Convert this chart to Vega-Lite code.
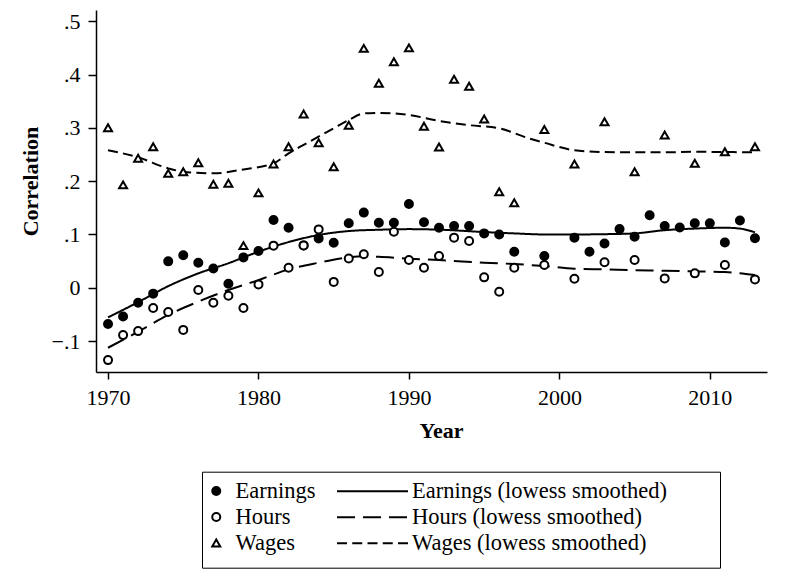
{
  "$schema": "https://vega.github.io/schema/vega-lite/v6.json",
  "width": 671,
  "height": 362,
  "autosize": {"type": "none"},
  "padding": {"left": 96, "top": 10, "right": 33, "bottom": 210},
  "background": "white",
  "config": {
    "view": {"stroke": null},
    "font": "Liberation Serif",
    "axis": {
      "domainColor": "black", "domainWidth": 1.5,
      "tickColor": "black", "tickWidth": 1.5, "tickSize": 7,
      "labelFont": "Liberation Serif", "labelFontSize": 22, "labelColor": "black",
      "titleFont": "Liberation Serif", "titleFontSize": 22, "titleFontWeight": "bold", "titleColor": "black",
      "grid": false
    }
  },
  "datasets": {
    "pts": [
      {"year": 1970, "value": -0.068, "series": "Earnings"},
      {"year": 1971, "value": -0.054, "series": "Earnings"},
      {"year": 1972, "value": -0.028, "series": "Earnings"},
      {"year": 1973, "value": -0.011, "series": "Earnings"},
      {"year": 1974, "value": 0.0495, "series": "Earnings"},
      {"year": 1975, "value": 0.061, "series": "Earnings"},
      {"year": 1976, "value": 0.047, "series": "Earnings"},
      {"year": 1977, "value": 0.036, "series": "Earnings"},
      {"year": 1978, "value": 0.0075, "series": "Earnings"},
      {"year": 1979, "value": 0.057, "series": "Earnings"},
      {"year": 1980, "value": 0.069, "series": "Earnings"},
      {"year": 1981, "value": 0.127, "series": "Earnings"},
      {"year": 1982, "value": 0.1126, "series": "Earnings"},
      {"year": 1983, "value": 0.0795, "series": "Earnings"},
      {"year": 1984, "value": 0.0926, "series": "Earnings"},
      {"year": 1985, "value": 0.0845, "series": "Earnings"},
      {"year": 1986, "value": 0.121, "series": "Earnings"},
      {"year": 1987, "value": 0.141, "series": "Earnings"},
      {"year": 1988, "value": 0.122, "series": "Earnings"},
      {"year": 1989, "value": 0.122, "series": "Earnings"},
      {"year": 1990, "value": 0.157, "series": "Earnings"},
      {"year": 1991, "value": 0.123, "series": "Earnings"},
      {"year": 1992, "value": 0.1126, "series": "Earnings"},
      {"year": 1993, "value": 0.116, "series": "Earnings"},
      {"year": 1994, "value": 0.116, "series": "Earnings"},
      {"year": 1995, "value": 0.102, "series": "Earnings"},
      {"year": 1996, "value": 0.1, "series": "Earnings"},
      {"year": 1997, "value": 0.0676, "series": "Earnings"},
      {"year": 1999, "value": 0.0595, "series": "Earnings"},
      {"year": 2001, "value": 0.094, "series": "Earnings"},
      {"year": 2002, "value": 0.0676, "series": "Earnings"},
      {"year": 2003, "value": 0.083, "series": "Earnings"},
      {"year": 2004, "value": 0.11, "series": "Earnings"},
      {"year": 2005, "value": 0.0957, "series": "Earnings"},
      {"year": 2006, "value": 0.136, "series": "Earnings"},
      {"year": 2007, "value": 0.116, "series": "Earnings"},
      {"year": 2008, "value": 0.113, "series": "Earnings"},
      {"year": 2009, "value": 0.121, "series": "Earnings"},
      {"year": 2010, "value": 0.121, "series": "Earnings"},
      {"year": 2011, "value": 0.085, "series": "Earnings"},
      {"year": 2012, "value": 0.126, "series": "Earnings"},
      {"year": 2013, "value": 0.093, "series": "Earnings"},
      {"year": 1970, "value": -0.1357, "series": "Hours"},
      {"year": 1971, "value": -0.0888, "series": "Hours"},
      {"year": 1972, "value": -0.0813, "series": "Hours"},
      {"year": 1973, "value": -0.038, "series": "Hours"},
      {"year": 1974, "value": -0.0456, "series": "Hours"},
      {"year": 1975, "value": -0.079, "series": "Hours"},
      {"year": 1976, "value": -0.0043, "series": "Hours"},
      {"year": 1977, "value": -0.028, "series": "Hours"},
      {"year": 1978, "value": -0.015, "series": "Hours"},
      {"year": 1979, "value": -0.038, "series": "Hours"},
      {"year": 1980, "value": 0.0063, "series": "Hours"},
      {"year": 1981, "value": 0.079, "series": "Hours"},
      {"year": 1982, "value": 0.0375, "series": "Hours"},
      {"year": 1983, "value": 0.0795, "series": "Hours"},
      {"year": 1984, "value": 0.1095, "series": "Hours"},
      {"year": 1985, "value": 0.011, "series": "Hours"},
      {"year": 1986, "value": 0.055, "series": "Hours"},
      {"year": 1987, "value": 0.063, "series": "Hours"},
      {"year": 1988, "value": 0.0295, "series": "Hours"},
      {"year": 1989, "value": 0.105, "series": "Hours"},
      {"year": 1990, "value": 0.052, "series": "Hours"},
      {"year": 1991, "value": 0.0375, "series": "Hours"},
      {"year": 1992, "value": 0.0595, "series": "Hours"},
      {"year": 1993, "value": 0.094, "series": "Hours"},
      {"year": 1994, "value": 0.0876, "series": "Hours"},
      {"year": 1995, "value": 0.0195, "series": "Hours"},
      {"year": 1996, "value": -0.0075, "series": "Hours"},
      {"year": 1997, "value": 0.0375, "series": "Hours"},
      {"year": 1999, "value": 0.0426, "series": "Hours"},
      {"year": 2001, "value": 0.017, "series": "Hours"},
      {"year": 2003, "value": 0.048, "series": "Hours"},
      {"year": 2005, "value": 0.052, "series": "Hours"},
      {"year": 2007, "value": 0.0176, "series": "Hours"},
      {"year": 2009, "value": 0.027, "series": "Hours"},
      {"year": 2011, "value": 0.0426, "series": "Hours"},
      {"year": 2013, "value": 0.0157, "series": "Hours"},
      {"year": 1970, "value": 0.3, "series": "Wages"},
      {"year": 1971, "value": 0.193, "series": "Wages"},
      {"year": 1972, "value": 0.243, "series": "Wages"},
      {"year": 1973, "value": 0.2646, "series": "Wages"},
      {"year": 1974, "value": 0.2146, "series": "Wages"},
      {"year": 1975, "value": 0.2177, "series": "Wages"},
      {"year": 1976, "value": 0.2346, "series": "Wages"},
      {"year": 1977, "value": 0.194, "series": "Wages"},
      {"year": 1978, "value": 0.196, "series": "Wages"},
      {"year": 1979, "value": 0.079, "series": "Wages"},
      {"year": 1980, "value": 0.178, "series": "Wages"},
      {"year": 1981, "value": 0.232, "series": "Wages"},
      {"year": 1982, "value": 0.2646, "series": "Wages"},
      {"year": 1983, "value": 0.326, "series": "Wages"},
      {"year": 1984, "value": 0.272, "series": "Wages"},
      {"year": 1985, "value": 0.227, "series": "Wages"},
      {"year": 1986, "value": 0.3047, "series": "Wages"},
      {"year": 1987, "value": 0.449, "series": "Wages"},
      {"year": 1988, "value": 0.3835, "series": "Wages"},
      {"year": 1989, "value": 0.424, "series": "Wages"},
      {"year": 1990, "value": 0.45, "series": "Wages"},
      {"year": 1991, "value": 0.303, "series": "Wages"},
      {"year": 1992, "value": 0.264, "series": "Wages"},
      {"year": 1993, "value": 0.391, "series": "Wages"},
      {"year": 1994, "value": 0.378, "series": "Wages"},
      {"year": 1995, "value": 0.3165, "series": "Wages"},
      {"year": 1996, "value": 0.18, "series": "Wages"},
      {"year": 1997, "value": 0.1595, "series": "Wages"},
      {"year": 1999, "value": 0.297, "series": "Wages"},
      {"year": 2001, "value": 0.232, "series": "Wages"},
      {"year": 2003, "value": 0.3115, "series": "Wages"},
      {"year": 2005, "value": 0.2177, "series": "Wages"},
      {"year": 2007, "value": 0.2865, "series": "Wages"},
      {"year": 2009, "value": 0.2334, "series": "Wages"},
      {"year": 2011, "value": 0.255, "series": "Wages"},
      {"year": 2013, "value": 0.2646, "series": "Wages"}
    ],
    "smooth": [
      {"year": 1970, "value": -0.0556, "series": "Earnings (lowess smoothed)"},
      {"year": 1972, "value": -0.027, "series": "Earnings (lowess smoothed)"},
      {"year": 1974, "value": 0.003, "series": "Earnings (lowess smoothed)"},
      {"year": 1976, "value": 0.027, "series": "Earnings (lowess smoothed)"},
      {"year": 1978, "value": 0.046, "series": "Earnings (lowess smoothed)"},
      {"year": 1980, "value": 0.0676, "series": "Earnings (lowess smoothed)"},
      {"year": 1982, "value": 0.0857, "series": "Earnings (lowess smoothed)"},
      {"year": 1984, "value": 0.099, "series": "Earnings (lowess smoothed)"},
      {"year": 1986, "value": 0.1064, "series": "Earnings (lowess smoothed)"},
      {"year": 1988, "value": 0.1088, "series": "Earnings (lowess smoothed)"},
      {"year": 1990, "value": 0.11, "series": "Earnings (lowess smoothed)"},
      {"year": 1992, "value": 0.109, "series": "Earnings (lowess smoothed)"},
      {"year": 1995, "value": 0.1045, "series": "Earnings (lowess smoothed)"},
      {"year": 1997, "value": 0.102, "series": "Earnings (lowess smoothed)"},
      {"year": 1999, "value": 0.1, "series": "Earnings (lowess smoothed)"},
      {"year": 2001, "value": 0.1, "series": "Earnings (lowess smoothed)"},
      {"year": 2003, "value": 0.1005, "series": "Earnings (lowess smoothed)"},
      {"year": 2005, "value": 0.102, "series": "Earnings (lowess smoothed)"},
      {"year": 2007, "value": 0.108, "series": "Earnings (lowess smoothed)"},
      {"year": 2009, "value": 0.111, "series": "Earnings (lowess smoothed)"},
      {"year": 2011, "value": 0.1126, "series": "Earnings (lowess smoothed)"},
      {"year": 2012, "value": 0.111, "series": "Earnings (lowess smoothed)"},
      {"year": 2013, "value": 0.104, "series": "Earnings (lowess smoothed)"},
      {"year": 1970, "value": -0.1125, "series": "Hours (lowess smoothed)"},
      {"year": 1972, "value": -0.0825, "series": "Hours (lowess smoothed)"},
      {"year": 1974, "value": -0.051, "series": "Hours (lowess smoothed)"},
      {"year": 1976, "value": -0.026, "series": "Hours (lowess smoothed)"},
      {"year": 1978, "value": -0.0043, "series": "Hours (lowess smoothed)"},
      {"year": 1980, "value": 0.0144, "series": "Hours (lowess smoothed)"},
      {"year": 1982, "value": 0.0345, "series": "Hours (lowess smoothed)"},
      {"year": 1984, "value": 0.047, "series": "Hours (lowess smoothed)"},
      {"year": 1986, "value": 0.057, "series": "Hours (lowess smoothed)"},
      {"year": 1987, "value": 0.059, "series": "Hours (lowess smoothed)"},
      {"year": 1988, "value": 0.058, "series": "Hours (lowess smoothed)"},
      {"year": 1990, "value": 0.0544, "series": "Hours (lowess smoothed)"},
      {"year": 1992, "value": 0.052, "series": "Hours (lowess smoothed)"},
      {"year": 1995, "value": 0.047, "series": "Hours (lowess smoothed)"},
      {"year": 1997, "value": 0.0445, "series": "Hours (lowess smoothed)"},
      {"year": 1999, "value": 0.0407, "series": "Hours (lowess smoothed)"},
      {"year": 2001, "value": 0.0357, "series": "Hours (lowess smoothed)"},
      {"year": 2003, "value": 0.0345, "series": "Hours (lowess smoothed)"},
      {"year": 2005, "value": 0.033, "series": "Hours (lowess smoothed)"},
      {"year": 2007, "value": 0.032, "series": "Hours (lowess smoothed)"},
      {"year": 2009, "value": 0.0307, "series": "Hours (lowess smoothed)"},
      {"year": 2011, "value": 0.0295, "series": "Hours (lowess smoothed)"},
      {"year": 2013, "value": 0.0238, "series": "Hours (lowess smoothed)"},
      {"year": 1970, "value": 0.258, "series": "Wages (lowess smoothed)"},
      {"year": 1972, "value": 0.2447, "series": "Wages (lowess smoothed)"},
      {"year": 1974, "value": 0.224, "series": "Wages (lowess smoothed)"},
      {"year": 1975, "value": 0.2177, "series": "Wages (lowess smoothed)"},
      {"year": 1977, "value": 0.2146, "series": "Wages (lowess smoothed)"},
      {"year": 1979, "value": 0.222, "series": "Wages (lowess smoothed)"},
      {"year": 1981, "value": 0.2334, "series": "Wages (lowess smoothed)"},
      {"year": 1982, "value": 0.252, "series": "Wages (lowess smoothed)"},
      {"year": 1983, "value": 0.268, "series": "Wages (lowess smoothed)"},
      {"year": 1985, "value": 0.299, "series": "Wages (lowess smoothed)"},
      {"year": 1986, "value": 0.3146, "series": "Wages (lowess smoothed)"},
      {"year": 1987, "value": 0.327, "series": "Wages (lowess smoothed)"},
      {"year": 1988, "value": 0.328, "series": "Wages (lowess smoothed)"},
      {"year": 1990, "value": 0.324, "series": "Wages (lowess smoothed)"},
      {"year": 1992, "value": 0.313, "series": "Wages (lowess smoothed)"},
      {"year": 1994, "value": 0.305, "series": "Wages (lowess smoothed)"},
      {"year": 1996, "value": 0.299, "series": "Wages (lowess smoothed)"},
      {"year": 1998, "value": 0.28, "series": "Wages (lowess smoothed)"},
      {"year": 1999, "value": 0.272, "series": "Wages (lowess smoothed)"},
      {"year": 2001, "value": 0.258, "series": "Wages (lowess smoothed)"},
      {"year": 2003, "value": 0.2546, "series": "Wages (lowess smoothed)"},
      {"year": 2005, "value": 0.254, "series": "Wages (lowess smoothed)"},
      {"year": 2007, "value": 0.254, "series": "Wages (lowess smoothed)"},
      {"year": 2009, "value": 0.255, "series": "Wages (lowess smoothed)"},
      {"year": 2011, "value": 0.2546, "series": "Wages (lowess smoothed)"},
      {"year": 2013, "value": 0.254, "series": "Wages (lowess smoothed)"}
    ]
  },
  "encoding": {
    "x": {
      "field": "year", "type": "quantitative",
      "scale": {"domain": [1969.2, 2013.8], "nice": false, "zero": false},
      "axis": {
        "values": [1970, 1980, 1990, 2000, 2010], "format": "d",
        "labelPadding": 8, "labelFlush": false,
        "title": "Year", "titleX": 345, "titleY": 65, "titleBaseline": "alphabetic", "titleAlign": "center"
      }
    },
    "y": {
      "field": "value", "type": "quantitative",
      "scale": {"domain": [-0.158, 0.521], "nice": false, "zero": false},
      "axis": {
        "values": [-0.1, 0, 0.1, 0.2, 0.3, 0.4, 0.5],
        "labelExpr": "datum.value == 0 ? '0' : replace(format(datum.value, '.1f'), '0.', '.')",
        "labelPadding": 8, "labelFlush": false, "tickSize": 8,
        "title": "Correlation", "titleX": -59, "titleY": 171, "titleAngle": -90,
        "titleBaseline": "alphabetic", "titleAlign": "center"
      }
    }
  },
  "layer": [
    {
      "data": {"name": "smooth"},
      "mark": {"type": "line", "color": "black", "strokeWidth": 2, "interpolate": "monotone"},
      "encoding": {
        "strokeDash": {
          "field": "series", "type": "nominal",
          "scale": {
            "domain": ["Earnings (lowess smoothed)", "Hours (lowess smoothed)", "Wages (lowess smoothed)"],
            "range": [[1, 0], [18, 8], [10, 5.25]]
          },
          "legend": {
            "title": null,
            "orient": "none", "legendX": 240, "legendY": 469.7,
            "direction": "vertical", "padding": 0,
            "symbolType": "stroke", "symbolSize": 5041, "symbolStrokeWidth": 2, "symbolStrokeColor": "black",
            "clipHeight": 23,
            "labelFont": "Liberation Serif", "labelFontSize": 22.5, "labelColor": "black", "labelLimit": 0,
            "labelOffset": 3, "rowPadding": 3
          }
        }
      }
    },
    {
      "data": {"name": "pts"},
      "mark": {"type": "point", "filled": true, "stroke": "black", "strokeWidth": 2, "size": 64, "opacity": 1},
      "encoding": {
        "fill": {
          "field": "series", "type": "nominal",
          "scale": {"domain": ["Earnings", "Hours", "Wages"], "range": ["black", "white", "white"]}
        },
        "shape": {
          "field": "series", "type": "nominal",
          "scale": {
            "domain": ["Earnings", "Hours", "Wages"],
            "range": ["circle", "circle", "triangle-up"]
          },
          "legend": {
            "title": "\u200b\u00a0\u00a0\u00a0\u00a0\u00a0\u00a0\u00a0\u00a0\u00a0\u00a0\u00a0\u00a0\u00a0\u00a0\u00a0\u00a0\u00a0\u00a0\u00a0\u00a0\u00a0\u00a0\u00a0\u00a0\u00a0\u00a0\u00a0\u00a0\u00a0\u00a0\u00a0\u00a0\u00a0\u00a0\u00a0\u00a0\u00a0\u00a0\u00a0\u00a0\u00a0\u00a0\u00a0\u00a0\u00a0\u00a0\u00a0\u00a0\u00a0\u00a0\u00a0\u00a0\u00a0\u00a0\u00a0\u00a0\u00a0\u00a0\u00a0\u00a0\u00a0\u00a0\u00a0\u00a0\u00a0\u00a0\u00a0\u00a0\u00a0\u00a0\u00a0\u00a0\u00a0\u00a0\u00a0\u00a0\u00a0\u00a0\u00a0\u00a0\u00a0\u00a0\u00a0\u00a0\u00a0\u00a0\u00a0\u00a0\u00a0\u00a0\u00a0\u00a0\u00a0\u00a0\u00a0\u00a0\u00a0\u00a0\u00a0\u00a0\u00a0\u00a0\u00a0\u00a0\u00a0\u00a0\u00a0\u00a0\u00a0\u00a0\u00a0\u00a0\u00a0\u00a0\u00a0\u00a0\u00a0\u00a0\u00a0\u00a0\u00a0\u00a0\u00a0\u00a0\u00a0\u00a0\u00a0\u00a0\u00a0\u00a0\u00a0\u00a0\u00a0\u00a0\u00a0\u00a0\u00a0\u00a0\u00a0\u00a0\u00a0\u00a0\u00a0\u00a0\u00a0\u00a0\u00a0\u00a0\u00a0\u00a0\u00a0\u00a0\u00a0\u00a0\u00a0\u00a0\u00a0\u00a0\u00a0\u00a0\u00a0\u00a0\u00a0\u00a0\u00a0\u00a0\u00a0\u00a0\u00a0\u00a0\u00a0\u00a0\u00a0\u00a0\u00a0\u00a0\u00a0\u00a0\u00a0\u00a0\u00a0\u00a0\u00a0\u00a0\u00a0\u00a0\u00a0\u00a0\u00a0\u00a0\u00a0\u00a0\u00a0\u00a0\u00a0\u00a0\u00a0\u00a0\u00a0\u00a0\u00a0\u00a0\u00a0\u00a0\u00a0\u00a0\u00a0\u00a0\u00a0\u00a0\u00a0\u00a0\u00a0\u00a0\u00a0\u00a0\u00a0\u00a0\u00a0\u00a0\u00a0\u00a0\u00a0\u00a0\u00a0\u00a0\u00a0\u00a0\u00a0\u00a0\u00a0\u00a0\u00a0\u00a0\u00a0\u00a0\u00a0\u00a0\u00a0\u00a0\u00a0\u00a0\u00a0\u00a0\u00a0\u00a0\u00a0\u00a0\u00a0\u00a0\u00a0\u00a0\u00a0\u00a0\u00a0\u00a0\u00a0\u00a0\u00a0\u00a0\u00a0\u00a0\u00a0\u00a0\u00a0\u00a0\u00a0\u00a0\u00a0\u00a0\u00a0\u00a0\u00a0\u00a0\u00a0\u00a0\u00a0\u00a0\u00a0\u00a0\u00a0\u00a0\u00a0\u00a0\u00a0\u00a0\u00a0\u00a0\u00a0\u00a0\u00a0\u00a0\u00a0\u00a0\u00a0\u00a0\u00a0\u00a0\u00a0\u00a0\u00a0\u00a0\u00a0\u00a0\u00a0\u00a0\u00a0\u00a0\u00a0\u00a0\u00a0\u00a0\u00a0\u00a0\u00a0\u00a0\u00a0\u00a0\u00a0\u00a0\u00a0\u00a0\u00a0\u00a0\u00a0\u00a0\u00a0\u00a0\u00a0\u00a0\u00a0\u00a0\u00a0\u00a0\u00a0\u00a0\u00a0\u00a0\u00a0\u00a0\u00a0\u00a0\u00a0\u00a0\u00a0\u00a0\u00a0\u00a0\u00a0\u00a0\u00a0\u00a0\u00a0\u00a0\u00a0\u00a0\u00a0\u00a0\u00a0\u00a0\u00a0\u00a0\u00a0\u00a0\u00a0\u00a0\u00a0\u00a0\u00a0\u00a0\u00a0\u00a0\u00a0\u00a0\u00a0\u00a0\u00a0\u00a0\u00a0\u00a0\u00a0\u00a0\u00a0\u00a0\u00a0\u00a0\u00a0\u00a0\u00a0\u00a0\u00a0\u00a0\u00a0\u00a0\u00a0\u00a0\u00a0\u00a0\u00a0\u00a0\u00a0\u200b",
            "titleOrient": "bottom", "titleAnchor": "start", "titleFontSize": 5, "titleFont": "Liberation Serif", "titleLimit": 2000, "titlePadding": 0,
            "orient": "none", "legendX": 106, "legendY": 461.7,
            "direction": "vertical",
            "padding": 8, "strokeColor": "black",
            "symbolSize": 64, "symbolStrokeWidth": 2, "symbolOffset": -5,
            "labelFont": "Liberation Serif", "labelFontSize": 22.5, "labelColor": "black", "labelLimit": 0,
            "labelOffset": 8, "rowPadding": 3
          }
        }
      }
    }
  ]
}
